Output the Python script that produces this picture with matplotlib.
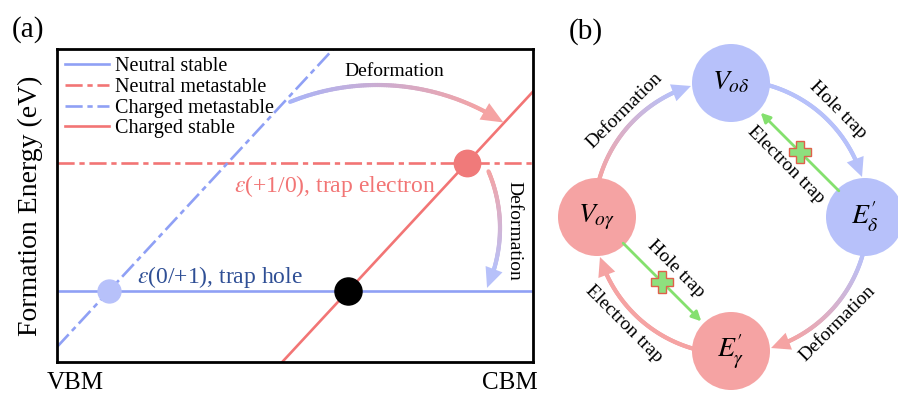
import numpy as np
import matplotlib
matplotlib.use('Agg')
import matplotlib.pyplot as plt
from matplotlib.collections import LineCollection
from matplotlib.patches import Polygon, Circle
from matplotlib.colors import to_rgb

plt.rcParams.update({
    'font.family': ['Liberation Serif', 'DejaVu Serif'],
    'mathtext.fontset': 'stix',
})

# ---- (a) formation energy vs Fermi level (normalised VBM -> CBM) ----
fermi = np.array([0.0, 1.0])
e_neutral_stable = 0.227
e_neutral_meta = 0.636
charge_slope = 1.64
e_charged_meta_vbm = 0.048
e_charged_stable_vbm = -0.776
band_labels = ['VBM', 'CBM']
band_pos = [0.038, 0.952]

# ---- (b) transition cycle ----
node_labels = [r'$V_{o\delta}$', r'$E^{\prime}_{\delta}$', r'$E^{\prime}_{\gamma}$', r'$V_{o\gamma}$']
node_angles = [90, 0, -90, 180]
node_kind = ['delta', 'delta', 'gamma', 'gamma']
ring_labels = ['Hole trap', 'Deformation', 'Electron trap', 'Deformation']
inner_links = [(1, 0, 'Electron trap'), (3, 2, 'Hole trap')]

BLUE = '#8FA0F5'
RED = '#F27575'
BLUE_L = '#B7C1FA'
RED_L = '#F5A3A3'
GREEN = '#84E06E'
NAVY = '#2F4F95'
node_col = {'delta': BLUE_L, 'gamma': RED_L}

fig = plt.figure(figsize=(8.98, 3.95), dpi=100)
ax = fig.add_axes([57 / 898, 33 / 395, 476 / 898, 313 / 395])

lw = 1.9
dashdot = (0, (6.5, 1.8, 2.0, 1.8))
ax.plot(fermi, [e_neutral_stable] * 2, color=BLUE, lw=lw, label='Neutral stable')
ax.plot(fermi, [e_neutral_meta] * 2, color=RED, lw=lw, ls=dashdot, label='Neutral metastable')
ax.plot(fermi, e_charged_meta_vbm + charge_slope * fermi, color=BLUE, lw=lw, ls=dashdot,
        label='Charged metastable')
ax.plot(fermi, e_charged_stable_vbm + charge_slope * fermi, color=RED, lw=lw,
        label='Charged stable')

# transition levels = crossings of the neutral and charged lines
x_hole = (e_neutral_stable - e_charged_meta_vbm) / charge_slope
x_elec = (e_neutral_meta - e_charged_stable_vbm) / charge_slope
x_cross = (e_neutral_stable - e_charged_stable_vbm) / charge_slope
ax.plot(x_hole, e_neutral_stable, 'o', color=BLUE_L, ms=16.5, zorder=5)
ax.plot(x_elec, e_neutral_meta, 'o', color='#F07A7A', ms=19, zorder=5)
ax.plot(x_cross, e_neutral_stable, 'o', color='black', ms=19.5, zorder=5)

ax.text(x_elec - 0.065, e_neutral_meta - 0.075, r'$\varepsilon$(+1/0), trap electron',
        color=RED, fontsize=17, ha='right', va='center')
ax.text(0.168, e_neutral_stable + 0.045, r'$\varepsilon$(0/+1), trap hole',
        color=NAVY, fontsize=17, ha='left', va='center')

ax.set_xlim(0, 1)
ax.set_ylim(0, 1)
ax.set_yticks([])
ax.set_xticks(band_pos)
ax.set_xticklabels(band_labels, fontsize=18)
ax.tick_params(axis='x', length=0, pad=7)
ax.set_ylabel('Formation Energy (eV)', fontsize=20, labelpad=10)
for s in ax.spines.values():
    s.set_linewidth(2.0)
ax.legend(loc='upper left', frameon=False, fontsize=14.5, handlelength=2.2,
          handletextpad=0.3, labelspacing=0.08, borderaxespad=0.1,
          borderpad=0.3)

# overlay in pixel units for the curved arrows and panel (b)
ov = fig.add_axes([0, 0, 1, 1])
ov.set_xlim(0, 898)
ov.set_ylim(395, 0)
ov.axis('off')


def grad_arc(c, r, a1, a2, col1, col2, lw, head=(18, 17), n=90):
    cx, cy = c
    t1, t2 = np.radians(a1), np.radians(a2)
    hl, hw = head
    dt = hl / r * np.sign(t2 - t1)
    t = np.linspace(t1, t2 - dt * 0.85, n)
    pts = np.column_stack([cx + r * np.cos(t), cy - r * np.sin(t)]).reshape(-1, 1, 2)
    segs = np.concatenate([pts[:-1], pts[1:]], axis=1)
    f = np.linspace(0, 1, n - 1)[:, None]
    cols = np.array(to_rgb(col1)) * (1 - f) + np.array(to_rgb(col2)) * f
    ov.add_collection(LineCollection(segs, colors=cols, linewidths=lw, capstyle='round'))
    tip = np.array([cx + r * np.cos(t2), cy - r * np.sin(t2)])
    tb = t2 - dt
    base = np.array([cx + r * np.cos(tb), cy - r * np.sin(tb)])
    d = (tip - base) / np.linalg.norm(tip - base)
    p = np.array([-d[1], d[0]])
    ov.add_patch(Polygon([tip, base + p * hw / 2, base - p * hw / 2], closed=True,
                         color=col2, lw=0))


# (a) deformation arrows
grad_arc((377, 317), 232, 112, 57, '#A9B4F8', RED_L, 3.0, head=(22, 19))
grad_arc((355, 228), 145, 23, -24.4, RED_L, BLUE_L, 3.0, head=(20, 18))
ov.text(394, 71, 'Deformation', fontsize=14, ha='center', va='center')
ov.text(514, 231, 'Deformation', fontsize=14, ha='center', va='center', rotation=-90)

# (b) cycle of defect states
ring_c = (731, 217)
ring_r = 134
node_r = 39
pos = [(ring_c[0] + ring_r * np.cos(np.radians(a)), ring_c[1] - ring_r * np.sin(np.radians(a)))
       for a in node_angles]
for (x, y), lab, k in zip(pos, node_labels, node_kind):
    ov.add_patch(Circle((x, y), node_r, color=node_col[k], lw=0, zorder=3))
    ov.text(x, y, lab, fontsize=20, ha='center', va='center', zorder=4)

n = len(node_angles)
for i in range(n):
    a_from = node_angles[i]
    a_to = node_angles[(i + 1) % n]
    if a_to > a_from:
        a_to -= 360
    grad_arc(ring_c, 137, a_from - 16, a_to + 17,
             node_col[node_kind[i]], node_col[node_kind[(i + 1) % n]], 3.0, head=(19, 18))
    mid = np.radians((a_from + a_to) / 2)
    rot = ((np.degrees(mid) - 90 + 90) % 180) - 90
    ov.text(ring_c[0] + 151 * np.cos(mid), ring_c[1] - 151 * np.sin(mid), ring_labels[i],
            fontsize=14, ha='center', va='center', rotation=rot, rotation_mode='anchor')

for src, dst, lab in inner_links:
    p0, p1 = np.array(pos[src]), np.array(pos[dst])
    d = (p1 - p0) / np.linalg.norm(p1 - p0)
    start = p0 + d * 37
    tip = p1 - d * 42
    ov.annotate('', xy=tip, xytext=start,
                arrowprops=dict(arrowstyle='-|>', color=GREEN, lw=2, mutation_scale=14,
                                shrinkA=0, shrinkB=0))
    m = (start + tip) / 2
    ov.plot(m[0], m[1], 'P', ms=15.5, mfc='#8EE07E', mec='#E0604A', mew=1, zorder=5)
    perp = np.array([d[1], -d[0]])
    if perp[0] < 0:
        perp = -perp
    side = -1 if lab == 'Electron trap' else 1
    tp = m + perp * 19 * side
    ang = np.degrees(np.arctan2(-d[1], d[0]))
    rot = ((ang + 90) % 180) - 90
    ov.text(tp[0], tp[1], lab, fontsize=14, ha='center', va='center', rotation=rot,
            rotation_mode='anchor')

fig.text(28 / 898, 1 - 30 / 395, '(a)', fontsize=21, ha='center', va='center')
fig.text(586 / 898, 1 - 32 / 395, '(b)', fontsize=21, ha='center', va='center')

fig.savefig('out.png', dpi=100)
